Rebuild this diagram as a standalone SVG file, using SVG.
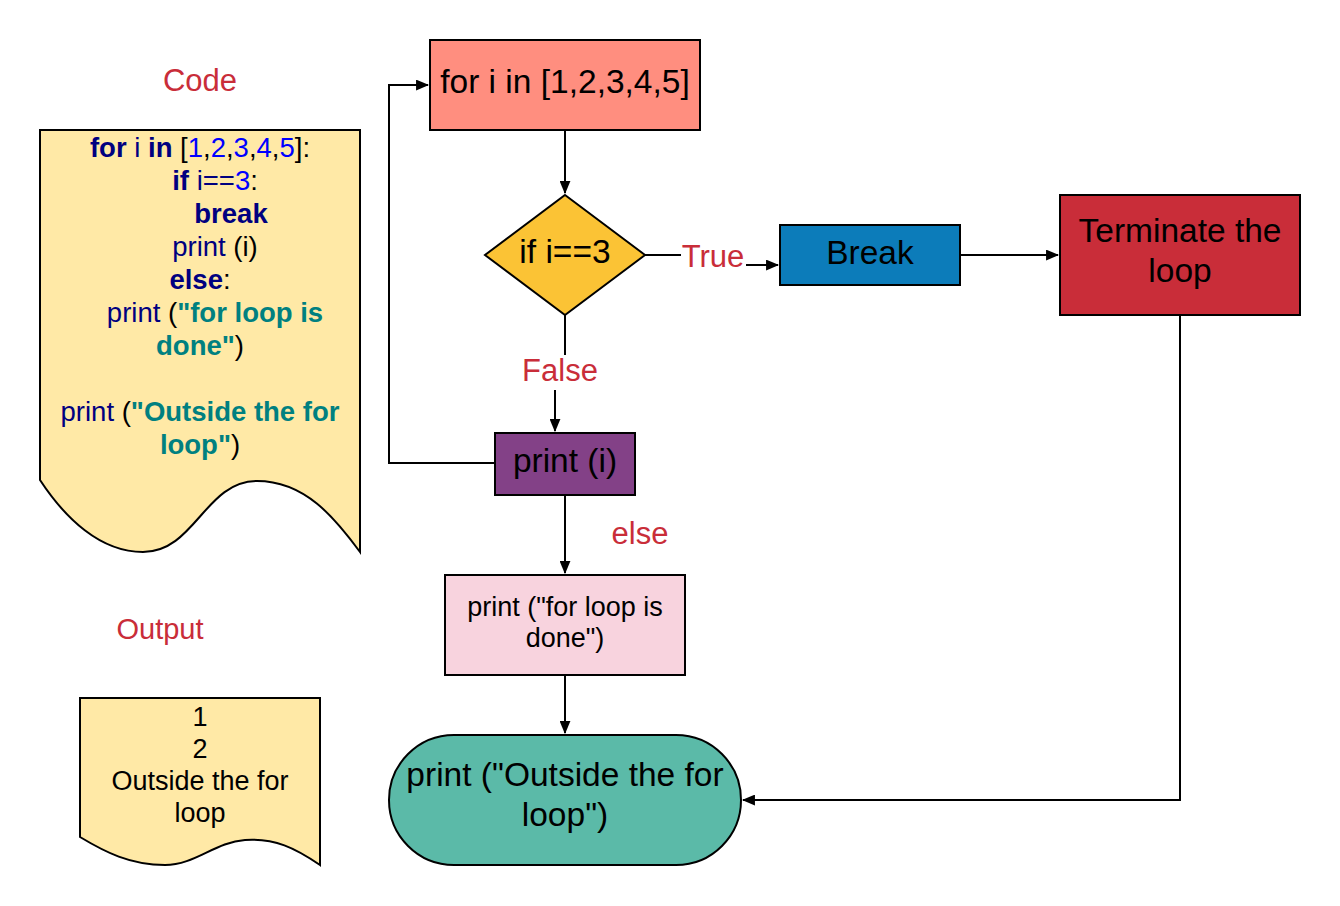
<svg xmlns="http://www.w3.org/2000/svg" width="1340" height="906" viewBox="0 0 1340 906">
<defs>
<marker id="arr" viewBox="0 0 12 10" refX="11" refY="5" markerWidth="13" markerHeight="11" markerUnits="userSpaceOnUse" orient="auto">
<path d="M0,0 L12,5 L0,10 Z" fill="#000"/>
</marker>
</defs>
<style>
text{font-family:"Liberation Sans",Arial,sans-serif;}
.shape{stroke:#000;stroke-width:2;}
.t32{font-size:33.5px;fill:#000;text-anchor:middle;}
.t26{font-size:27px;fill:#000;text-anchor:middle;}
.lbl{font-size:31px;fill:#C92D39;text-anchor:middle;}
.code{font-size:27.5px;text-anchor:middle;fill:#000080;}
.kw{font-weight:bold;fill:#000080;}
.num{fill:#0000FF;}
.blk{fill:#000;}
.str{font-weight:bold;fill:#008080;}
.conn{fill:none;stroke:#000;stroke-width:2;}
</style>
<rect width="1340" height="906" fill="#fff"/>

<text class="lbl" x="200" y="91">Code</text>
<text class="lbl" x="160" y="639" style="font-size:29px">Output</text>

<g id="code-doc">
<path class="shape" fill="#FFE9A6" d="M40,130 H360 V552 C335,518 305,481 257,481 C205,481 195,552 143,552 C100,552 65,518 40,480 Z"/>
<text class="code" x="200" y="157"><tspan class="kw">for</tspan> i <tspan class="kw">in</tspan> <tspan class="blk">[</tspan><tspan class="num">1</tspan><tspan class="blk">,</tspan><tspan class="num">2</tspan><tspan class="blk">,</tspan><tspan class="num">3</tspan><tspan class="blk">,</tspan><tspan class="num">4</tspan><tspan class="blk">,</tspan><tspan class="num">5</tspan><tspan class="blk">]:</tspan></text>
<text class="code" x="215" y="190"><tspan class="kw">if</tspan> i==<tspan class="num">3</tspan><tspan class="blk">:</tspan></text>
<text class="code" x="231" y="223"><tspan class="kw">break</tspan></text>
<text class="code" x="215" y="256">print <tspan class="blk">(i)</tspan></text>
<text class="code" x="200" y="289"><tspan class="kw">else</tspan><tspan class="blk">:</tspan></text>
<text class="code" x="215" y="322">print <tspan class="blk">(</tspan><tspan class="str">"for loop is</tspan></text>
<text class="code" x="200" y="355"><tspan class="str">done"</tspan><tspan class="blk">)</tspan></text>
<text class="code" x="200" y="421">print <tspan class="blk">(</tspan><tspan class="str">"Outside the for</tspan></text>
<text class="code" x="200" y="454"><tspan class="str">loop"</tspan><tspan class="blk">)</tspan></text>
</g>

<g id="output-doc">
<path class="shape" fill="#FFE9A6" d="M80,698 H320 V865 C295,848 275,838 245,840 C215,842 195,865 165,865 C130,865 105,852 80,837 Z"/>
<text class="t26" x="200" y="726">1</text>
<text class="t26" x="200" y="758">2</text>
<text class="t26" x="200" y="790">Outside the for</text>
<text class="t26" x="200" y="822">loop</text>
</g>

<g id="connectors">
<path class="conn" d="M565,130 V193" marker-end="url(#arr)"/>
<path class="conn" d="M645,255 H681"/>
<path class="conn" d="M746,265 H778" marker-end="url(#arr)"/>
<path class="conn" d="M960,255 H1058" marker-end="url(#arr)"/>
<path class="conn" d="M1180,315 V800 H743" marker-end="url(#arr)"/>
<path class="conn" d="M565,315 V355"/>
<path class="conn" d="M555,390 V431" marker-end="url(#arr)"/>
<path class="conn" d="M495,463 H389 V85 H428" marker-end="url(#arr)"/>
<path class="conn" d="M565,495 V573" marker-end="url(#arr)"/>
<path class="conn" d="M565,675 V733" marker-end="url(#arr)"/>
<text class="lbl" x="713" y="267">True</text>
<text class="lbl" x="560" y="381">False</text>
<text class="lbl" x="640" y="544">else</text>
</g>

<g id="for-box">
<rect class="shape" x="430" y="40" width="270" height="90" fill="#FF8E7F"/>
<text class="t32" x="565" y="93">for i in [1,2,3,4,5]</text>
</g>

<g id="if-diamond">
<path class="shape" fill="#FBC335" d="M565,195 L645,255 L565,315 L485,255 Z"/>
<text class="t32" x="565" y="263">if i==3</text>
</g>

<g id="break-box">
<rect class="shape" x="780" y="225" width="180" height="60" fill="#0C7CBA"/>
<text class="t32" x="870" y="264">Break</text>
</g>

<g id="terminate-box">
<rect class="shape" x="1060" y="195" width="240" height="120" fill="#C92D39"/>
<text class="t32" x="1180" y="242">Terminate the</text>
<text class="t32" x="1180" y="282">loop</text>
</g>

<g id="print-i">
<rect class="shape" x="495" y="433" width="140" height="62" fill="#834187"/>
<text class="t32" x="565" y="472">print (i)</text>
</g>

<g id="print-done">
<rect class="shape" x="445" y="575" width="240" height="100" fill="#F8D3DE"/>
<text class="t26" x="565" y="616">print ("for loop is</text>
<text class="t26" x="565" y="647">done")</text>
</g>

<g id="print-outside">
<rect class="shape" x="389" y="735" width="352" height="130" rx="65" ry="65" fill="#5BBAA8"/>
<text class="t32" x="565" y="786">print ("Outside the for</text>
<text class="t32" x="565" y="826">loop")</text>
</g>
</svg>
